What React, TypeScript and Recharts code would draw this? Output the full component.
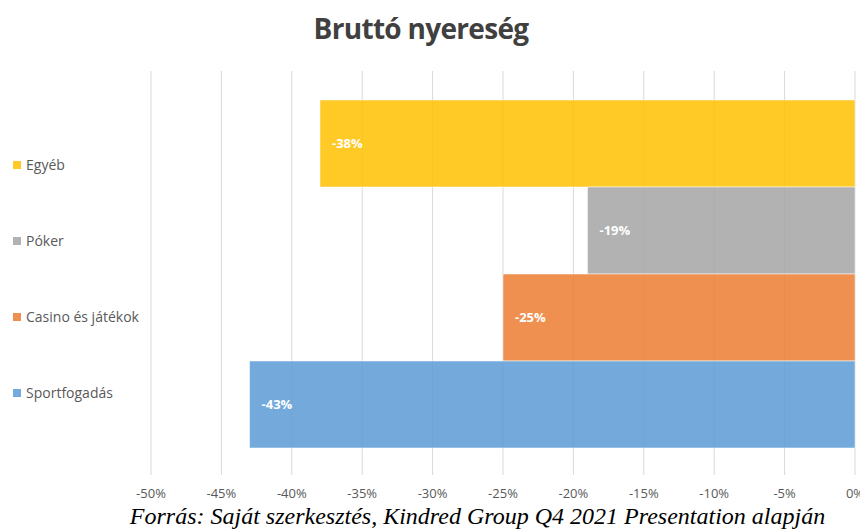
import { Bar, BarChart, CartesianGrid, LabelList, XAxis, YAxis } from "recharts";

// top to bottom, as drawn
const seriesNames = ["Egyéb", "Póker", "Casino és játékok", "Sportfogadás"];
const seriesKeys = ["egyeb", "poker", "casino", "sport"];
const seriesValues = [-38, -19, -25, -43];
const seriesColors = ["#FFC000", "#A5A5A5", "#ED7D31", "#5B9BD5"];
const xTicks = [-50, -45, -40, -35, -30, -25, -20, -15, -10, -5, 0];

const row: Record<string, string | number> = { name: "Bruttó nyereség" };
seriesKeys.forEach((k, i) => {
  row[k] = seriesValues[i];
});
const data = [row];

const font = "'Open Sans', sans-serif";

export default function App() {
  return (
    <div style={{ position: "absolute", left: 0, top: 0, width: 860, height: 529, overflow: "hidden", background: "#fff" }}>
      <div
        style={{
          position: "absolute",
          left: 221,
          width: 400,
          top: 9,
          textAlign: "center",
          fontFamily: font,
          fontWeight: 700,
          fontSize: 28,
          color: "#404040",
          letterSpacing: -0.7,
        }}
      >
        Bruttó nyereség
      </div>

      <div style={{ position: "absolute", left: 13, top: 0, fontFamily: font, fontSize: 14, color: "#595959" }}>
        {seriesNames.map((n, i) => (
          <div
            key={n}
            style={{ position: "absolute", top: 155 + i * 76, display: "flex", alignItems: "center", whiteSpace: "nowrap" }}
          >
            <span style={{ width: 8, height: 8, background: seriesColors[i], opacity: 0.85, marginRight: 5, display: "inline-block" }} />
            {n}
          </div>
        ))}
      </div>

      <div style={{ position: "absolute", left: 0, top: 0 }}>
        <BarChart
          width={875}
          height={529}
          data={data}
          layout="vertical"
          margin={{ top: 71, right: 20, bottom: 0, left: 151 }}
          barGap={0}
          barCategoryGap={29}
        >
          <CartesianGrid horizontal={false} stroke="#d9d9d9" />
          <XAxis
            type="number"
            domain={[-50, 0]}
            ticks={xTicks}
            tickFormatter={(v) => `${v}%`}
            axisLine={false}
            tickLine={false}
            tickMargin={8}
            height={54}
            interval={0}
            tick={{ fontSize: 13, fill: "#595959", fontFamily: font }}
          />
          <YAxis type="category" dataKey="name" hide />
          {seriesKeys.map((k, i) => (
            <Bar
              key={k}
              dataKey={k}
              name={seriesNames[i]}
              fill={seriesColors[i]}
              fillOpacity={0.85}
              stroke="#ffffff"
              strokeOpacity={0.5}
              isAnimationActive={false}
            >
              <LabelList
                dataKey={k}
                position="insideRight"
                offset={12}
                formatter={(v: number) => `${v}%`}
                style={{ fill: "#ffffff", fontWeight: 700, fontSize: 13, fontFamily: font }}
              />
            </Bar>
          ))}
        </BarChart>
      </div>

      <div
        style={{
          position: "absolute",
          left: 0,
          width: 955,
          top: 505,
          textAlign: "center",
          fontFamily: "'Liberation Serif', serif",
          fontStyle: "italic",
          fontSize: 24,
          lineHeight: "23px",
          color: "#000",
          whiteSpace: "nowrap",
        }}
      >
        Forrás: Saját szerkesztés, Kindred Group Q4 2021 Presentation alapján
      </div>
    </div>
  );
}
